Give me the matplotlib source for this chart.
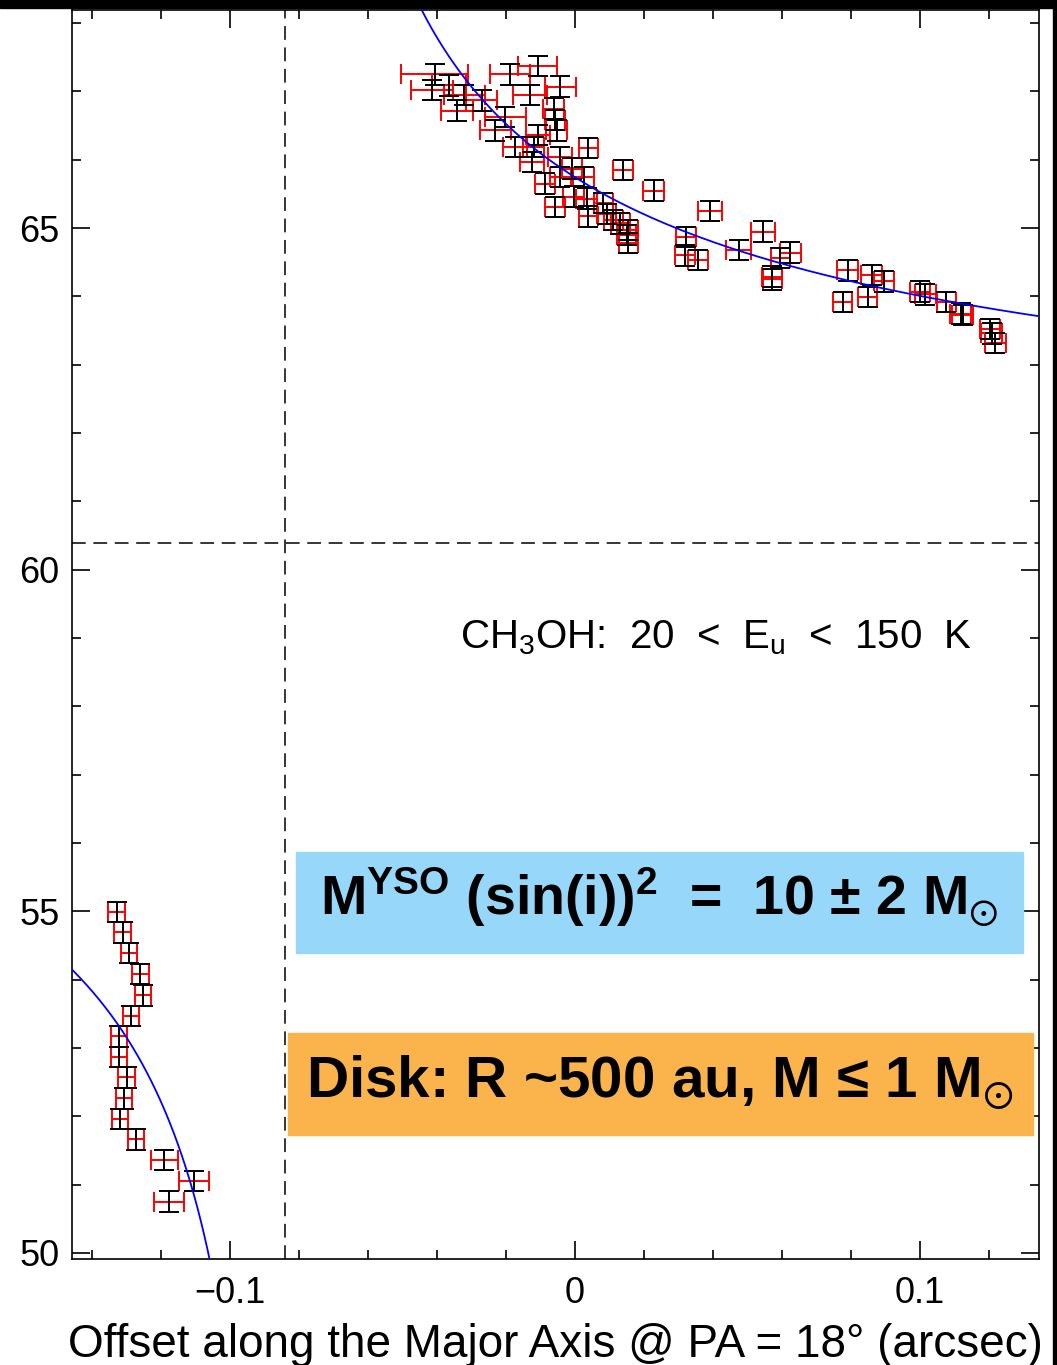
"""Position-velocity plot of the CH3OH emission along the disk major axis."""

import numpy as np
import matplotlib
matplotlib.use("Agg")
import matplotlib.pyplot as plt
from matplotlib.patches import Rectangle
from matplotlib.ticker import MultipleLocator

plt.rcParams["font.family"] = ["Liberation Sans", "DejaVu Sans"]
plt.rcParams["mathtext.fontset"] = "custom"
plt.rcParams["mathtext.rm"] = "Liberation Sans"
plt.rcParams["mathtext.it"] = "Liberation Sans:italic"
plt.rcParams["mathtext.bf"] = "Liberation Sans:bold"
plt.rcParams["mathtext.fallback"] = "stixsans"

# red-shifted side (offset in arcsec, velocity in km/s, errors)
red_x = [-0.0406, -0.0414, -0.0364, -0.0341, -0.0269, -0.0187, -0.0107, -0.0042,
         -0.0129, -0.0201, -0.0230, -0.0061, -0.0057, -0.0052, -0.0105, -0.0119,
         -0.0172, -0.0124, -0.0042, 0.0040, -0.0008, -0.0086, -0.0042, 0.0026,
         -0.0057, -0.0003, 0.0035, 0.0040, 0.0093, 0.0132, 0.0156, 0.0151,
         0.0156, 0.0140, 0.0229, 0.0393, 0.0323, 0.0320, 0.0358, 0.0475,
         0.0547, 0.0625, 0.0596, 0.0572, 0.0573, 0.0791, 0.0861, 0.0897,
         0.0777, 0.0849, 0.1001, 0.1016, 0.1077, 0.1119, 0.1125, 0.1209,
         0.1219, 0.1204, -0.0320, 0.0083, 0.0112]
red_v = [67.25, 67.02, 67.09, 66.72, 66.87, 67.25, 67.37, 67.07,
         66.95, 66.63, 66.43, 66.75, 66.58, 66.43, 66.36, 66.19,
         66.19, 65.97, 66.04, 66.17, 65.87, 65.65, 65.75, 65.75,
         65.31, 65.46, 65.43, 65.17, 65.21, 65.07, 64.97, 64.90,
         64.78, 65.85, 65.55, 65.25, 64.87, 64.60, 64.53, 64.68,
         64.95, 64.64, 64.56, 64.29, 64.25, 64.38, 64.31, 64.22,
         63.92, 63.99, 64.07, 64.03, 63.92, 63.75, 63.73, 63.46,
         63.32, 63.52, 66.95, 65.37, 65.12]
red_xerr = [0.0097, 0.0060, 0.0050, 0.0045, 0.0045, 0.0059, 0.0056, 0.0045,
            0.0050, 0.0060, 0.0045, 0.0030, 0.0030, 0.0030, 0.0035, 0.0030,
            0.0035, 0.0035, 0.0035, 0.0028, 0.0030, 0.0030, 0.0030, 0.0030,
            0.0028, 0.0030, 0.0030, 0.0028, 0.0028, 0.0028, 0.0028, 0.0028,
            0.0028, 0.0028, 0.0030, 0.0035, 0.0028, 0.0028, 0.0028, 0.0035,
            0.0035, 0.0030, 0.0028, 0.0028, 0.0028, 0.0030, 0.0030, 0.0030,
            0.0028, 0.0028, 0.0030, 0.0030, 0.0028, 0.0030, 0.0030, 0.0030,
            0.0030, 0.0030, 0.0060, 0.0028, 0.0028]
red_verr = [0.15] * len(red_x)

# blue-shifted side
blue_x = [-0.1328, -0.1310, -0.1292, -0.1259, -0.1251, -0.1286, -0.1321, -0.1321,
          -0.1299, -0.1306, -0.1318, -0.1271, -0.1189, -0.1104, -0.1176]
blue_v = [54.99, 54.69, 54.39, 54.08, 53.77, 53.47, 53.17, 52.87,
          52.57, 52.26, 51.96, 51.66, 51.36, 51.05, 50.75]
blue_xerr = [0.0024, 0.0024, 0.0024, 0.0024, 0.0024, 0.0024, 0.0024, 0.0024,
             0.0024, 0.0024, 0.0024, 0.0024, 0.0039, 0.0044, 0.0044]
blue_verr = [0.15] * len(blue_x)

# Keplerian model: centre position, systemic velocity, amplitude (km/s arcsec^0.5)
x_dyn = -0.0839
v_sys = 60.39
kep_amp = 1.552

x_lim = (-0.1457, 0.1346)
v_lim = (49.91, 68.20)

W, H = 1057, 1365
fig = plt.figure(figsize=(W / 100, H / 100), dpi=100)
ax = fig.add_axes([72 / W, 1 - 1259 / H, (1039 - 72) / W, (1259 - 9.5) / H])


def fx(px):
    return px / W


def fy(py):
    return 1 - py / H


xs = np.concatenate([red_x, blue_x])
vs = np.concatenate([red_v, blue_v])
xe = np.concatenate([red_xerr, blue_xerr])
ve = np.concatenate([red_verr, blue_verr])

ax.errorbar(xs, vs, xerr=xe, fmt="none", ecolor="red", elinewidth=1.4,
            capsize=7, capthick=1.4, zorder=3)
ax.errorbar(xs, vs, yerr=ve, fmt="none", ecolor="black", elinewidth=1.4,
            capsize=7, capthick=1.4, zorder=4)

xr = np.linspace(x_dyn + 1e-5, 0.15, 600)
xl = np.linspace(-0.16, x_dyn - 1e-5, 600)
ax.plot(xr, v_sys + kep_amp / np.sqrt(xr - x_dyn), color="blue", lw=1.3, zorder=5)
ax.plot(xl, v_sys - kep_amp / np.sqrt(x_dyn - xl), color="blue", lw=1.3, zorder=5)

ax.axvline(x_dyn, color="black", lw=1.1, dashes=(9, 5), zorder=2)
ax.axhline(v_sys, color="black", lw=1.1, dashes=(9, 5), zorder=2)

ax.set_xlim(*x_lim)
ax.set_ylim(*v_lim)
ax.xaxis.set_major_locator(MultipleLocator(0.1))
ax.xaxis.set_minor_locator(MultipleLocator(0.02))
ax.yaxis.set_major_locator(MultipleLocator(5))
ax.yaxis.set_minor_locator(MultipleLocator(1))
ax.xaxis.set_major_formatter(plt.FuncFormatter(lambda v, p: "0" if abs(v) < 1e-9 else f"{v:.1f}".replace("-", "\u2212")))
ax.tick_params(which="both", direction="in", top=True, right=True, width=1.2, labelsize=26)
ax.tick_params(which="major", length=13)
ax.tick_params(which="minor", length=6.5)
ax.tick_params(axis="x", pad=12)
ax.tick_params(axis="y", pad=9)
for s in ax.spines.values():
    s.set_linewidth(1.2)

ax.set_xlabel("Offset along the Major Axis @ PA = 18\u00b0 (arcsec)", fontsize=33, labelpad=9)

fig.text(fx(460), fy(648), r"CH$_3$OH:  20  <  E$_{\rm u}$  <  150  K", fontsize=29,
         ha="left", va="baseline")

# mass and disk summaries
fig.patches.append(Rectangle((fx(296), fy(953)), fx(1023) - fx(296), fy(852) - fy(953),
                             transform=fig.transFigure, color="#97D8FA", zorder=6))
fig.patches.append(Rectangle((fx(288), fy(1135)), fx(1033) - fx(288), fy(1033) - fy(1135),
                             transform=fig.transFigure, color="#FBB44C", zorder=6))
fig.text(fx(659), fy(915), r"M$^{\mathbf{YSO}}$ (sin(i))$^{\mathbf{2}}$  =  10 ± 2 M$_{\odot}$",
         fontsize=40, fontweight="bold", ha="center", va="baseline", zorder=7)
fig.text(fx(660), fy(1097), r"Disk: R ~500 au, M ≤ 1 M$_{\odot}$",
         fontsize=42, fontweight="bold", ha="center", va="baseline", zorder=7)

# frame strips along the top and right edges
fig.patches.append(Rectangle((0, fy(8)), 1, fy(0) - fy(8), transform=fig.transFigure,
                             color="black", zorder=8))
fig.patches.append(Rectangle((fx(1052.5), 0), 1 - fx(1052.5), 1, transform=fig.transFigure,
                             color="black", zorder=8))

fig.savefig("out.png", dpi=100)
